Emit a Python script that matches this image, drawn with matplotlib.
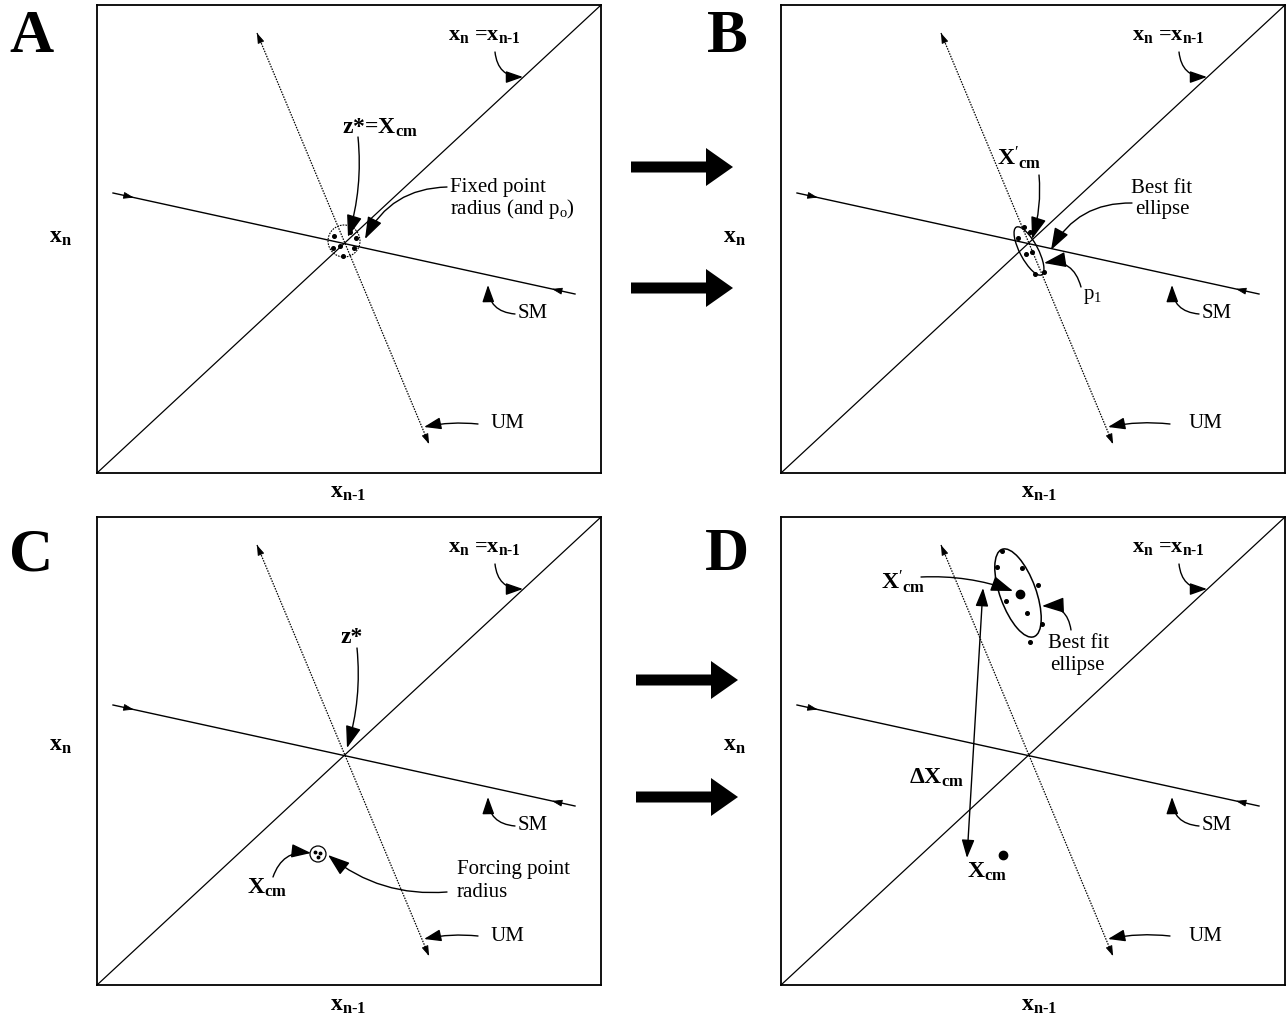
import matplotlib
matplotlib.use('Agg')
import matplotlib.pyplot as plt
from matplotlib.patches import Ellipse, Circle, FancyArrow

plt.rcParams['font.family'] = ['Liberation Serif', 'DejaVu Serif']
plt.rcParams['mathtext.fontset'] = 'custom'
plt.rcParams['mathtext.rm'] = 'Liberation Serif'
plt.rcParams['mathtext.it'] = 'Liberation Serif:italic'
plt.rcParams['mathtext.bf'] = 'Liberation Serif:bold'

W, H = 1286, 1022
PW, PH = 504, 468

# ---------------- data (panel-local units, origin bottom-left) ----------------
panel_names = ['A', 'B', 'C', 'D']
panel_left = [97, 781, 97, 781]
panel_top = [5, 5, 517, 517]

diag_x = [0, 504]
diag_y = [0, 468]
sm_x = [16, 478]
sm_y = [280, 179]
um_x = [160, 332]
um_y = [440, 29]
fixed_point = (247, 232)

letter_xy = [(-65, 436), (-54, 436), (-66, 430), (-54, 430)]
xn_label_xy = [(-37, 236), (-47, 236), (-37, 240), (-47, 240)]
xn1_label_xy = [(251, -19), (258, -19), (251, -20), (258, -20)]

eq_label_xy = (387, 438)
eq_arrow = [(398, 421), (426, 396)]
sm_label_xy = (436, 160)
sm_arrow = [(418, 159), (391, 188)]
um_label_x = [410, 424, 410, 424]
um_label_y = 49
um_arrow_tail_x = [381, 389, 381, 389]
um_arrow_tip = (327, 46)

# Panel A
a_dots_x = [237, 236, 243, 246, 257, 259, 253]
a_dots_y = [237, 225, 227, 217, 225, 235, 241]
a_circle_r = 16
a_zlabel_xy = (283, 345)
a_zarrow = [(261, 336), (251, 236)]
a_fixed_xy = (353, 295)
a_fixed_arrow = [(350, 286), (268, 234)]

# Panel B
b_ellipse = (248, 222, 54, 18, -62)
b_dots_x = [243, 249, 237, 245, 251, 254, 263]
b_dots_y = [246, 241, 235, 219, 221, 199, 201]
b_xcm_xy = (238, 315)
b_xcm_arrow = [(258, 298), (251, 234)]
b_best_xy = (381, 274)
b_best_arrow = [(351, 270), (270, 223)]
b_p1_xy = (312, 176)
b_p1_arrow = [(300, 186), (263, 210)]

# Panel C
c_zlabel_xy = (255, 348)
c_zarrow = [(260, 337), (250, 237)]
c_circle = (221, 131, 8)
c_dots_x = [218, 223, 221]
c_dots_y = [133, 132, 128]
c_xcm_xy = (170, 97)
c_xcm_arrow = [(176, 108), (214, 132)]
c_forcing_xy = (360, 105)
c_forcing_arrow = [(350, 93), (231, 130)]

# Panel D
d_ellipse = (237, 392, 93, 36, -70)
d_dots_x = [221, 216, 241, 257, 225, 246, 261, 249]
d_dots_y = [434, 418, 417, 400, 384, 372, 361, 343]
d_center = (239, 391)
d_xcm_new_xy = (122, 403)
d_xcm_new_arrow = [(140, 408), (232, 394)]
d_best_xy = (298, 342)
d_best_arrow = [(290, 355), (261, 379)]
d_delta_top = (202, 397)
d_delta_bottom = (186, 127)
d_delta_xy = (155, 207)
d_old_dot = (222, 130)
d_old_xy = (206, 113)

# block arrows between panels (figure pixels): x_start, x_end, y
block_x0 = [631, 631, 636, 636]
block_x1 = [733, 733, 738, 738]
block_y = [167, 288, 680, 797]

FS_ANN = 15
FS_LBL = 17
FS_LET = 44
HY = '\u2010'

fig = plt.figure(figsize=(W / 100, H / 100), dpi=100)

# overlay for block arrows
ov = fig.add_axes([0, 0, 1, 1])
ov.set_xlim(0, W)
ov.set_ylim(H, 0)
ov.axis('off')
for x0, x1, y in zip(block_x0, block_x1, block_y):
    ov.add_patch(FancyArrow(x0, y, x1 - x0, 0, width=11, head_width=38,
                            head_length=27, length_includes_head=True,
                            color='k', lw=0))


def callout(ax, tail, tip, rad, ms=15, lw=1.0):
    ax.annotate('', xy=tip, xytext=tail,
                arrowprops=dict(arrowstyle='-|>,head_length=0.8,head_width=0.28',
                                mutation_scale=ms, lw=lw, color='k',
                                connectionstyle=f'arc3,rad={rad}',
                                shrinkA=0, shrinkB=0),
                annotation_clip=False)


def small_head(ax, x0, y0, x1, y1, frac, ms=7):
    # small arrowhead placed along a line, pointing from (x0,y0) toward (x1,y1)
    tx = x0 + (x1 - x0) * frac
    ty = y0 + (y1 - y0) * frac
    dx, dy = (x1 - x0), (y1 - y0)
    L = (dx ** 2 + dy ** 2) ** 0.5
    ax.annotate('', xy=(tx, ty), xytext=(tx - dx / L * 6, ty - dy / L * 6),
                arrowprops=dict(arrowstyle='-|>,head_length=0.9,head_width=0.3',
                                mutation_scale=ms, lw=0.6, color='k',
                                shrinkA=0, shrinkB=0))


n1 = r'$\mathbf{x_{n' + HY + r'1}}$'

axes = []
for i, name in enumerate(panel_names):
    l, t = panel_left[i], panel_top[i]
    ax = fig.add_axes([l / W, 1 - (t + PH) / H, PW / W, PH / H])
    ax.set_xlim(0, PW)
    ax.set_ylim(0, PH)
    ax.set_xticks([])
    ax.set_yticks([])
    for s in ax.spines.values():
        s.set_linewidth(1.3)
        s.set_color('k')
    ax.patch.set_alpha(0)
    # common schematic
    ax.plot(diag_x, diag_y, color='k', lw=0.9, solid_capstyle='butt')
    ax.plot(sm_x, sm_y, color='k', lw=1.0)
    ax.plot(um_x, um_y, color='k', lw=0.9, ls=(0, (1.2, 1.0)))
    # small arrowheads: SM toward fixed point, UM away from it
    small_head(ax, sm_x[0], sm_y[0], sm_x[1], sm_y[1], 0.045)
    small_head(ax, sm_x[1], sm_y[1], sm_x[0], sm_y[0], 0.05)
    small_head(ax, um_x[1], um_y[1], um_x[0], um_y[0], 1.0)
    small_head(ax, um_x[0], um_y[0], um_x[1], um_y[1], 1.0)
    # labels
    ax.text(*letter_xy[i], name, fontsize=FS_LET, fontweight='bold',
            ha='center', va='center')
    ax.text(*xn_label_xy[i], r'$\mathbf{x_n}$', fontsize=FS_LBL,
            ha='center', va='center')
    ax.text(*xn1_label_xy[i], n1, fontsize=FS_LBL,
            ha='center', va='center')
    ax.text(*eq_label_xy, r'$\mathbf{x_n}$ =' + n1, fontsize=FS_LBL - 1,
            ha='center', va='center', fontweight='bold')
    callout(ax, eq_arrow[0], eq_arrow[1], 0.45, ms=13)
    ax.text(*sm_label_xy, 'SM', fontsize=FS_ANN, ha='center', va='center')
    callout(ax, sm_arrow[0], sm_arrow[1], -0.45, ms=13)
    ax.text(um_label_x[i], um_label_y, 'UM', fontsize=FS_ANN, ha='center', va='center')
    callout(ax, (um_arrow_tail_x[i], um_label_y), um_arrow_tip, 0.08, ms=13)
    axes.append(ax)

# ---- Panel A ----
ax = axes[0]
ax.add_patch(Circle(fixed_point, a_circle_r, fill=False, lw=0.8, ls=(0, (1.5, 1.0))))
ax.plot(a_dots_x, a_dots_y, 'o', color='k', ms=2.6)
ax.text(*a_zlabel_xy, r'z*=$\mathbf{X_{cm}}$', fontsize=FS_LBL, fontweight='bold',
        ha='center', va='center')
callout(ax, a_zarrow[0], a_zarrow[1], -0.1, ms=17)
ax.text(*a_fixed_xy, 'Fixed point\nradius (and p$_\\mathrm{o}$)', fontsize=FS_ANN,
        ha='left', va='top', linespacing=1.0)
callout(ax, a_fixed_arrow[0], a_fixed_arrow[1], 0.3, ms=17)

# ---- Panel B ----
ax = axes[1]
ex, ey, ew, eh, ea = b_ellipse
ax.add_patch(Ellipse((ex, ey), ew, eh, angle=ea, fill=False, lw=1.0))
ax.plot(b_dots_x, b_dots_y, 'o', color='k', ms=2.6)
ax.text(*b_xcm_xy, r"$\mathbf{X}'_{\mathbf{cm}}$", fontsize=FS_LBL,
        ha='center', va='center')
callout(ax, b_xcm_arrow[0], b_xcm_arrow[1], -0.1, ms=17)
ax.text(*b_best_xy, 'Best fit\nellipse', fontsize=FS_ANN, ha='center', va='center',
        linespacing=1.1)
callout(ax, b_best_arrow[0], b_best_arrow[1], 0.3, ms=17)
ax.text(*b_p1_xy, r'p$_1$', fontsize=FS_ANN, ha='center', va='center')
callout(ax, b_p1_arrow[0], b_p1_arrow[1], 0.45, ms=17)

# ---- Panel C ----
ax = axes[2]
ax.text(*c_zlabel_xy, 'z*', fontsize=FS_LBL, fontweight='bold', ha='center', va='center')
callout(ax, c_zarrow[0], c_zarrow[1], -0.1, ms=17)
cx, cy, cr = c_circle
ax.add_patch(Circle((cx, cy), cr, fill=False, lw=0.9))
ax.plot(c_dots_x, c_dots_y, 'o', color='k', ms=1.8)
ax.text(*c_xcm_xy, r'$\mathbf{X_{cm}}$', fontsize=FS_LBL, ha='center', va='center')
callout(ax, c_xcm_arrow[0], c_xcm_arrow[1], -0.4, ms=15)
ax.text(c_forcing_xy[0], c_forcing_xy[1] + 11, 'Forcing point', fontsize=FS_ANN,
        ha='left', va='center')
ax.text(c_forcing_xy[0], c_forcing_xy[1] - 12, 'radius', fontsize=FS_ANN,
        ha='left', va='center')
callout(ax, c_forcing_arrow[0], c_forcing_arrow[1], -0.2, ms=17)

# ---- Panel D ----
ax = axes[3]
ex, ey, ew, eh, ea = d_ellipse
ax.add_patch(Ellipse((ex, ey), ew, eh, angle=ea, fill=False, lw=1.1))
ax.plot(d_dots_x, d_dots_y, 'o', color='k', ms=2.6)
ax.plot(*d_center, 'o', color='k', ms=6)
ax.text(*d_xcm_new_xy, r"$\mathbf{X}'_{\mathbf{cm}}$", fontsize=FS_LBL,
        ha='center', va='center')
callout(ax, d_xcm_new_arrow[0], d_xcm_new_arrow[1], -0.1, ms=17)
ax.text(*d_best_xy, 'Best fit', fontsize=FS_ANN, ha='center', va='center')
ax.text(d_best_xy[0] - 2, d_best_xy[1] - 22, 'ellipse', fontsize=FS_ANN,
        ha='center', va='center')
callout(ax, d_best_arrow[0], d_best_arrow[1], 0.45, ms=17)
ax.annotate('', xy=d_delta_top, xytext=d_delta_bottom,
            arrowprops=dict(arrowstyle='<|-|>,head_length=0.8,head_width=0.28',
                            mutation_scale=14, lw=1.0, color='k',
                            shrinkA=0, shrinkB=0))
ax.text(*d_delta_xy, r'Δ$\mathbf{X_{cm}}$', fontsize=FS_LBL, fontweight='bold',
        ha='center', va='center')
ax.plot(*d_old_dot, 'o', color='k', ms=6)
ax.text(*d_old_xy, r'$\mathbf{X_{cm}}$', fontsize=FS_LBL, ha='center', va='center')

fig.savefig('out.png', dpi=100, facecolor='white')
